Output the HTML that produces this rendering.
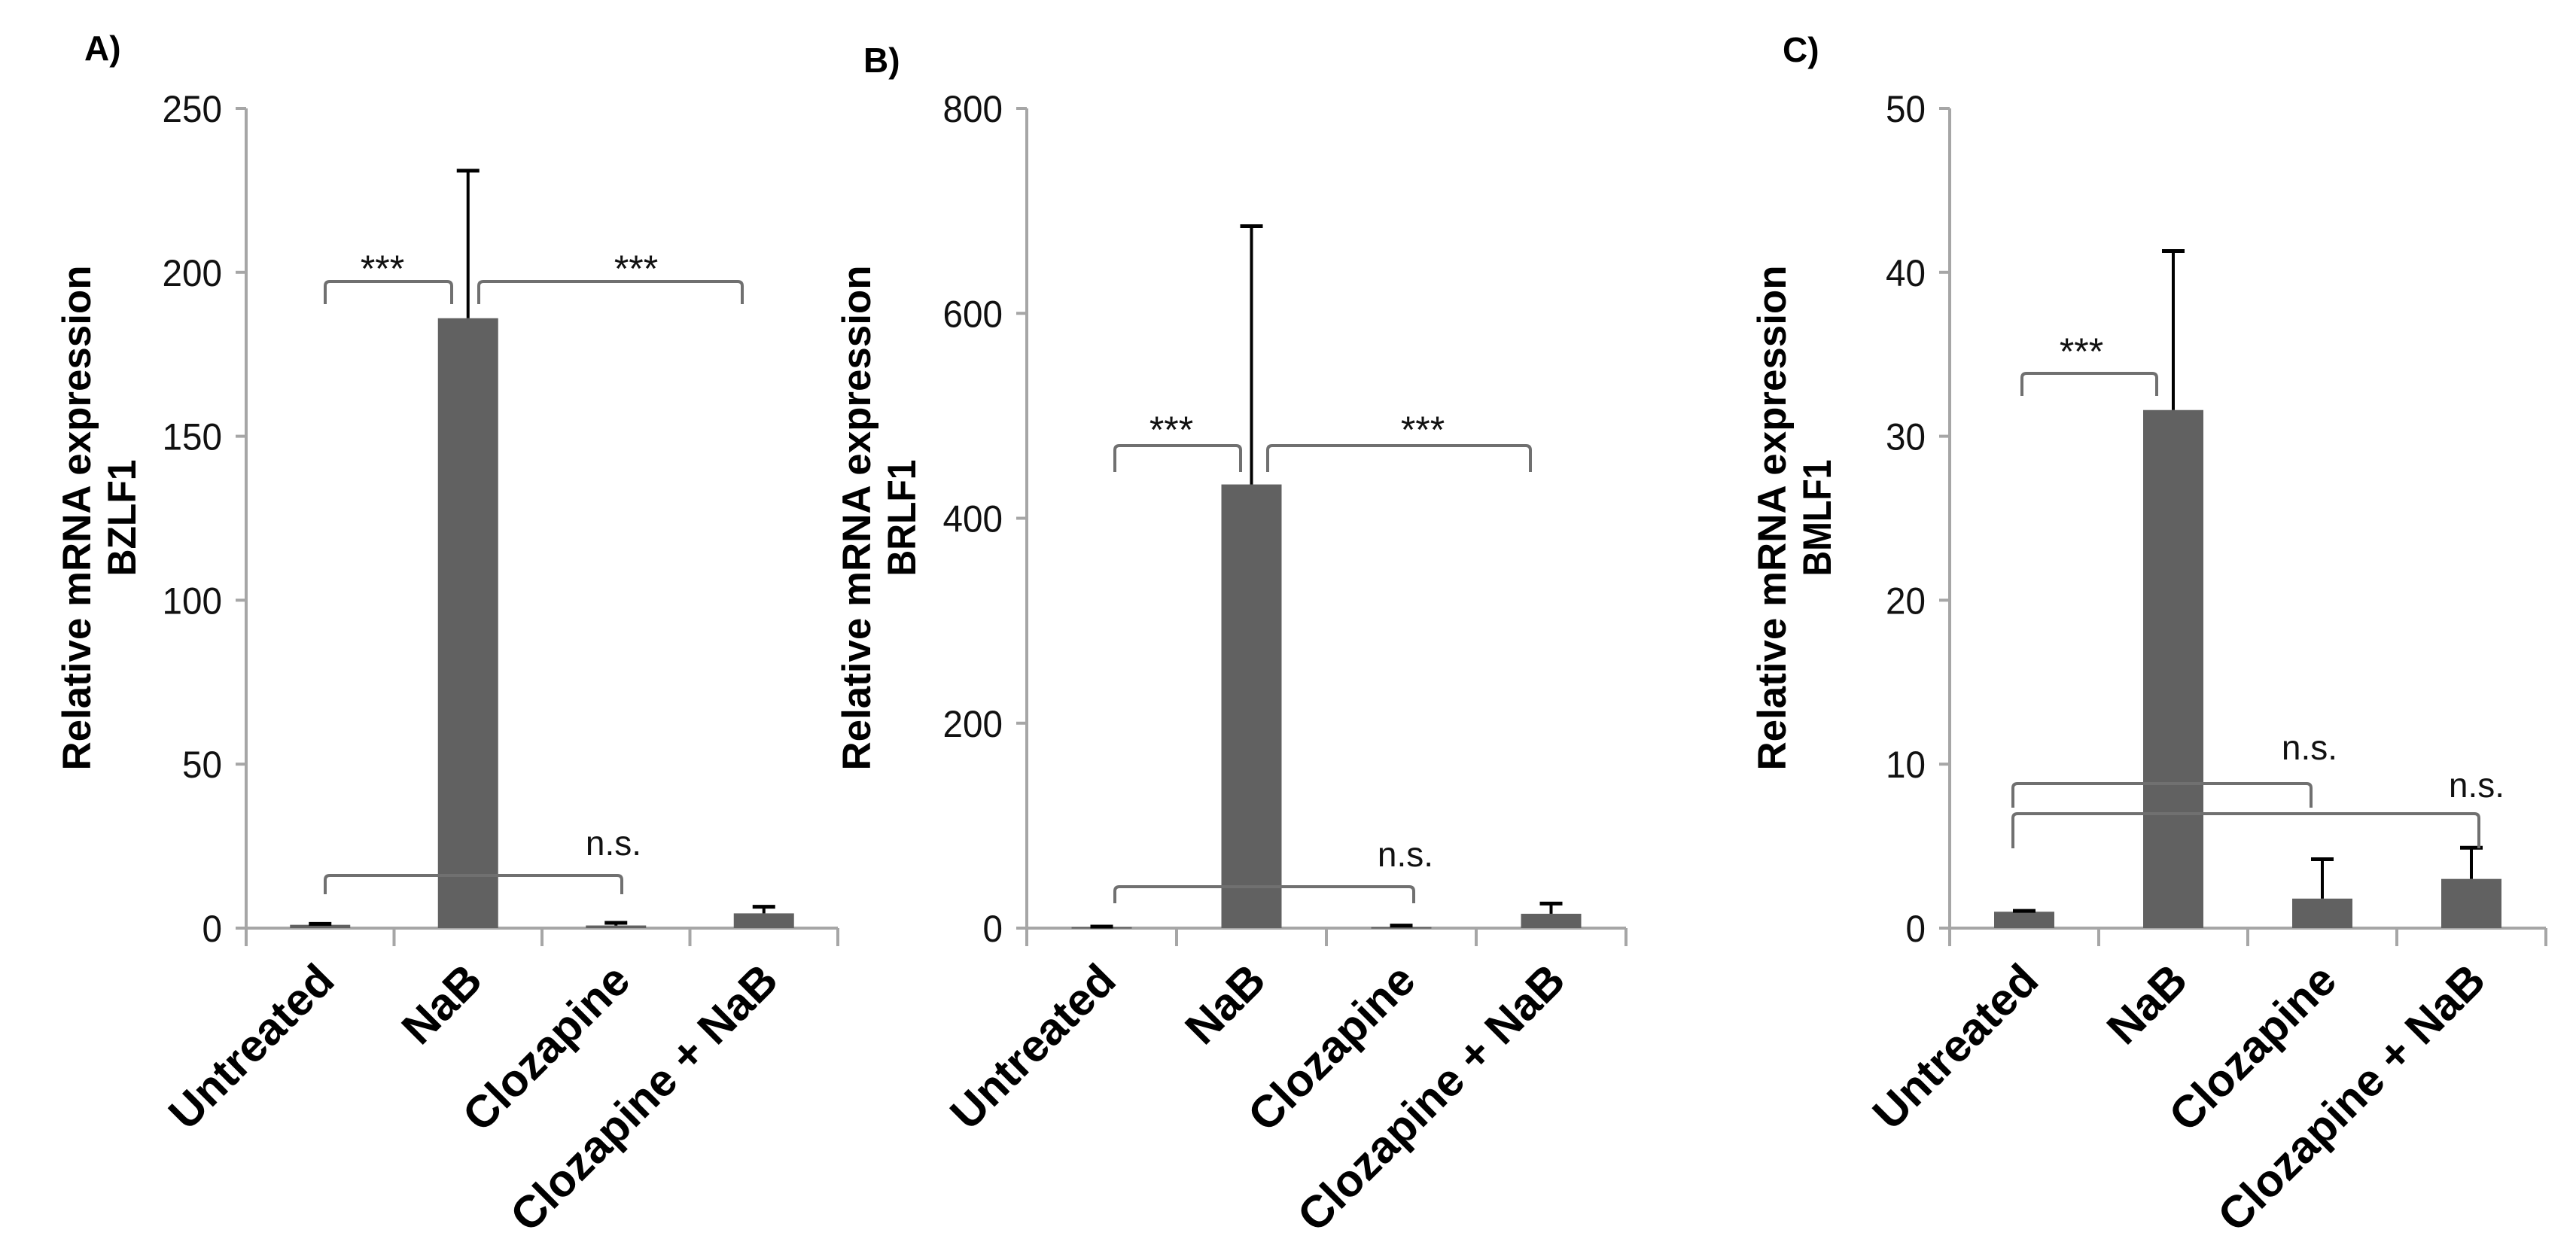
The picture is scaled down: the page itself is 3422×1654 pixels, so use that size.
<!DOCTYPE html>
<html><head><meta charset="utf-8"><style>
html,body{margin:0;padding:0;background:#fff;}
svg{display:block;}
text{font-family:"Liberation Sans",Arial,sans-serif;}
</style></head><body>
<svg id="fig" width="3422" height="1654" viewBox="0 0 3422 1654" xmlns="http://www.w3.org/2000/svg"></svg>
<script>
const categories = ["Untreated","NaB","Clozapine","Clozapine + NaB"];
const valuesA = [1, 186, 0.8, 4.5];
const errorsA = [0.3, 45, 0.8, 2];
const ticksA = [0, 50, 100, 150, 200, 250];
const valuesB = [1, 433, 1, 14];
const errorsB = [0.5, 252, 1.5, 10];
const ticksB = [0, 200, 400, 600, 800];
const valuesC = [1.0, 31.6, 1.8, 3.0];
const errorsC = [0.05, 9.7, 2.4, 1.9];
const ticksC = [0, 10, 20, 30, 40, 50];

const NS = "http://www.w3.org/2000/svg";
const svg = document.getElementById("fig");
function mk(tag, attrs, parent, txt){
  const e = document.createElementNS(NS, tag);
  for (const k in attrs) e.setAttribute(k, attrs[k]);
  if (txt !== undefined) e.textContent = txt;
  (parent || svg).appendChild(e);
  return e;
}
const Y0 = 1233, YTOP = 144;

function panel(cfg){
  const g = mk("g", {});
  
  
  const x0 = cfg.x0, x1 = cfg.x1, max = cfg.ticks[cfg.ticks.length-1];
  const ys = v => Y0 - (v / max) * (Y0 - YTOP);
  const step = (x1 - x0) / categories.length;
  const xc = i => x0 + step * (i + 0.5);

  const lbl = mk("text", {x: cfg.lx, y: cfg.ly, "font-size": 46, "font-weight": "bold"}, g, cfg.id + ")");
  
  

  const ya = mk("line", {x1: x0, y1: YTOP, x2: x0, y2: Y0, stroke: "#a6a6a6", "stroke-width": 4}, g);
  
  
  cfg.ticks.forEach(t => {
    const y = ys(t);
    const tk = mk("line", {x1: x0 - 14, y1: y, x2: x0, y2: y, stroke: "#a6a6a6", "stroke-width": 4}, g);
    
    
    const s = String(t);
    const tl = mk("text", {x: x0 - 32, y: y + 18, "font-size": 50, "text-anchor": "end", fill: "#111",
      textLength: s.length * 26.5, lengthAdjust: "spacingAndGlyphs"}, g, s);
    
    
  });
  const tg = mk("g", {transform: `translate(${cfg.tx},688) rotate(-90)`}, g);
  
  
  mk("text", {x: 0, y: 0, "font-size": 53, "font-weight": "bold", "text-anchor": "middle",
    textLength: 671, lengthAdjust: "spacingAndGlyphs"}, tg, "Relative mRNA expression");
  mk("text", {x: 0, y: 60, "font-size": 53, "font-weight": "bold", "text-anchor": "middle",
    textLength: 155, lengthAdjust: "spacingAndGlyphs"}, tg, cfg.gene);

  const xa = mk("line", {x1: x0 - 12, y1: Y0, x2: x1, y2: Y0, stroke: "#a6a6a6", "stroke-width": 4}, g);
  
  
  for (let i = 0; i <= categories.length; i++){
    const x = x0 + step * i;
    const tk = mk("line", {x1: x, y1: Y0, x2: x, y2: Y0 + 24, stroke: "#a6a6a6", "stroke-width": 4}, g);
    
    
  }
  cfg.values.forEach((v, i) => {
    const cx = xc(i), w = 80, top = ys(v);
    const b = mk("rect", {x: cx - w/2, y: top, width: w, height: Math.max(Y0 - top, 2), fill: "#616161"}, g);
    
    
    const et = ys(v + cfg.errors[i]);
    const e1 = mk("line", {x1: cx, y1: top, x2: cx, y2: et, stroke: "#000", "stroke-width": 4}, g);
    
    
    const e2 = mk("line", {x1: cx - 15, y1: et, x2: cx + 15, y2: et, stroke: "#000", "stroke-width": 5}, g);
    
    
    const tgx = mk("text", {transform: `translate(${cx + 22},${Y0 + 73}) rotate(-45)`, "font-size": 60,
      "font-weight": "bold", "text-anchor": "end"}, g, categories[i]);
    
    
  });
  cfg.brackets.forEach(br => {
    const xa_ = br.xa, xb = br.xb, y = br.y, d = br.d;
    const p = mk("path", {d: `M${xa_} ${y + d} L${xa_} ${y + 6} Q${xa_} ${y} ${xa_ + 6} ${y} L${xb - 6} ${y} Q${xb} ${y} ${xb} ${y + 6} L${xb} ${y + d}`,
      fill: "none", stroke: "#707070", "stroke-width": 4}, g);
    
    
    const big = br.label === "***";
    const t = mk("text", {x: br.tx, y: br.ty + (big ? 8 : 4), "font-size": big ? 50 : 46, "text-anchor": "middle", fill: "#111"}, g, br.label);
    
    
  });
}

panel({id: "A", gene: "BZLF1", x0: 327, x1: 1113, ticks: ticksA, values: valuesA, errors: errorsA,
  lx: 112, ly: 80, tx: 120,
  brackets: [
    {xa: 432, xb: 600, y: 374, d: 30, tx: 508, ty: 366, label: "***"},
    {xa: 636, xb: 986, y: 374, d: 30, tx: 845, ty: 366, label: "***"},
    {xa: 432, xb: 826, y: 1163, d: 25, tx: 815, ty: 1132, label: "n.s."}
  ]});
panel({id: "B", gene: "BRLF1", x0: 1364, x1: 2160, ticks: ticksB, values: valuesB, errors: errorsB,
  lx: 1147, ly: 96, tx: 1156,
  brackets: [
    {xa: 1481, xb: 1648, y: 592, d: 35, tx: 1556, ty: 580, label: "***"},
    {xa: 1684, xb: 2033, y: 592, d: 35, tx: 1890, ty: 580, label: "***"},
    {xa: 1481, xb: 1878, y: 1178, d: 22, tx: 1867, ty: 1147, label: "n.s."}
  ]});
panel({id: "C", gene: "BMLF1", x0: 2590, x1: 3382, ticks: ticksC, values: valuesC, errors: errorsC,
  lx: 2368, ly: 82, tx: 2372,
  brackets: [
    {xa: 2686, xb: 2865, y: 496, d: 30, tx: 2765, ty: 476, label: "***"},
    {xa: 2674, xb: 3070, y: 1041, d: 32, tx: 3068, ty: 1005, label: "n.s."},
    {xa: 2674, xb: 3293, y: 1081, d: 46, tx: 3290, ty: 1055, label: "n.s."}
  ]});
</script>
</body></html>
